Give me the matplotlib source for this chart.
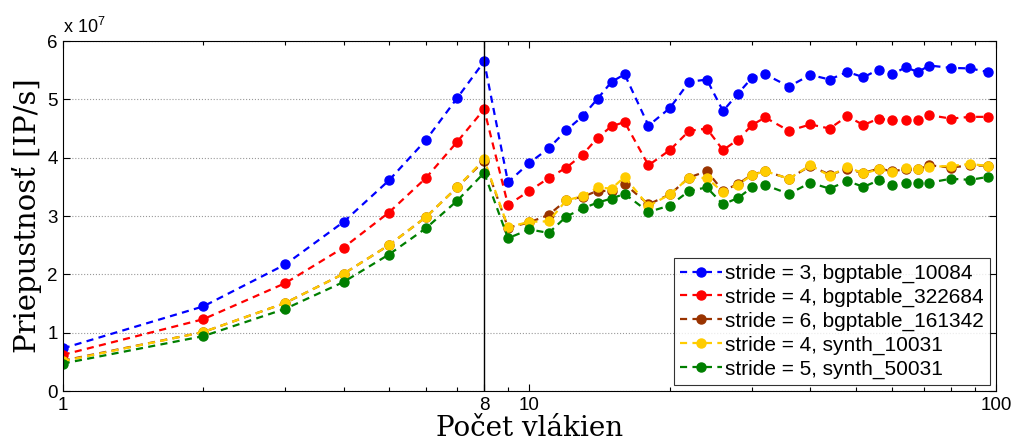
import matplotlib.pyplot as plt
from matplotlib.ticker import FixedLocator, LogLocator, NullFormatter

# počet vlákien
threads = [1, 2, 3, 4, 5, 6, 7, 8, 9, 10, 11, 12, 13, 14, 15, 16,
           18, 20, 22, 24, 26, 28, 30, 32,
           36, 40, 44, 48, 52, 56, 60, 64, 68, 72,
           80, 88, 96]

# priepustnost v jednotkach 1e7 IP/s
blue = [0.73, 1.45, 2.17, 2.90, 3.61, 4.30, 5.02, 5.65, 3.58, 3.91, 4.16, 4.47, 4.71, 5.01, 5.30, 5.43,
        4.55, 4.85, 5.30, 5.34, 4.80, 5.10, 5.37, 5.43,
        5.22, 5.42, 5.34, 5.47, 5.38, 5.51, 5.43, 5.55, 5.47, 5.58,
        5.54, 5.53, 5.47]
red = [0.62, 1.23, 1.85, 2.46, 3.06, 3.65, 4.27, 4.83, 3.19, 3.43, 3.65, 3.83, 4.05, 4.34, 4.54, 4.61,
       3.87, 4.13, 4.46, 4.50, 4.13, 4.31, 4.56, 4.69,
       4.46, 4.57, 4.50, 4.71, 4.56, 4.67, 4.64, 4.64, 4.65, 4.73,
       4.67, 4.70, 4.70]
brown = [0.52, 1.01, 1.51, 2.01, 2.50, 2.98, 3.49, 3.95, 2.80, 2.89, 3.02, 3.27, 3.33, 3.43, 3.43, 3.55,
         3.20, 3.37, 3.66, 3.77, 3.43, 3.55, 3.71, 3.77,
         3.64, 3.86, 3.71, 3.80, 3.74, 3.81, 3.77, 3.80, 3.80, 3.87,
         3.83, 3.87, 3.86]
yellow = [0.51, 1.01, 1.51, 2.01, 2.50, 2.98, 3.49, 3.97, 2.81, 2.90, 2.91, 3.27, 3.34, 3.49, 3.47, 3.67,
          3.17, 3.37, 3.66, 3.65, 3.41, 3.54, 3.70, 3.77,
          3.64, 3.87, 3.69, 3.84, 3.73, 3.80, 3.75, 3.83, 3.80, 3.84,
          3.86, 3.89, 3.86]
green = [0.47, 0.94, 1.41, 1.87, 2.34, 2.79, 3.26, 3.74, 2.62, 2.77, 2.71, 2.99, 3.13, 3.23, 3.30, 3.38,
         3.07, 3.18, 3.43, 3.49, 3.20, 3.31, 3.49, 3.53,
         3.38, 3.57, 3.47, 3.60, 3.50, 3.61, 3.54, 3.57, 3.56, 3.57,
         3.64, 3.62, 3.67]

series = [
    (blue, '#0000ff', 'stride = 3, bgptable_10084'),
    (red, '#ff0000', 'stride = 4, bgptable_322684'),
    (brown, '#993300', 'stride = 6, bgptable_161342'),
    (yellow, '#ffcc00', 'stride = 4, synth_10031'),
    (green, '#007f00', 'stride = 5, synth_50031'),
]

plt.rcParams['font.family'] = ['Liberation Sans', 'DejaVu Sans']

fig = plt.figure(figsize=(10.18, 4.46), dpi=100)
ax = fig.add_axes([0.0616, 0.1233, 0.9168, 0.7847])

for vals, col, lab in series:
    ax.plot(threads, vals, linestyle='--', dashes=(3.2, 2.4), marker='o',
            markersize=6.5, linewidth=1.6, color=col, label=lab)

ax.axvline(8, color='black', linewidth=1.0)

ax.set_xscale('log')
ax.set_xlim(1, 100)
ax.set_ylim(0, 6)
ax.xaxis.set_major_locator(FixedLocator([1, 8, 10, 100]))
ax.xaxis.set_major_formatter(plt.FixedFormatter(['1', '8', '10', '100']))
ax.xaxis.set_minor_locator(LogLocator(base=10, subs=range(2, 10)))
ax.xaxis.set_minor_formatter(NullFormatter())
ax.set_yticks(range(0, 7))

ax.tick_params(which='both', direction='in', top=True, right=True,
               labelsize=13.5, width=0.8)
ax.tick_params(which='major', length=5)
ax.tick_params(which='minor', length=3)
ax.tick_params(axis='x', which='major', pad=4)

ax.yaxis.grid(True, linestyle=':', color='#999999', linewidth=0.8)
for s in ax.spines.values():
    s.set_linewidth(0.8)

ax.text(0.0, 1.012, r'x $\mathregular{10^{7}}$', transform=ax.transAxes,
        fontsize=13, ha='left', va='bottom')

ax.set_xlabel('Počet vlákien', fontsize=20, family='DejaVu Serif',
              labelpad=1)
ax.set_ylabel('Priepustnosť [IP/s]', fontsize=21, family='DejaVu Serif',
              labelpad=4)

leg = ax.legend(loc='lower right', fontsize=15, frameon=True, fancybox=False,
                edgecolor='black', handlelength=2.0, handletextpad=0.15,
                borderpad=0.3, labelspacing=0.22, borderaxespad=0.3)
leg.get_frame().set_linewidth(0.8)

fig.savefig('out.png', dpi=100)
